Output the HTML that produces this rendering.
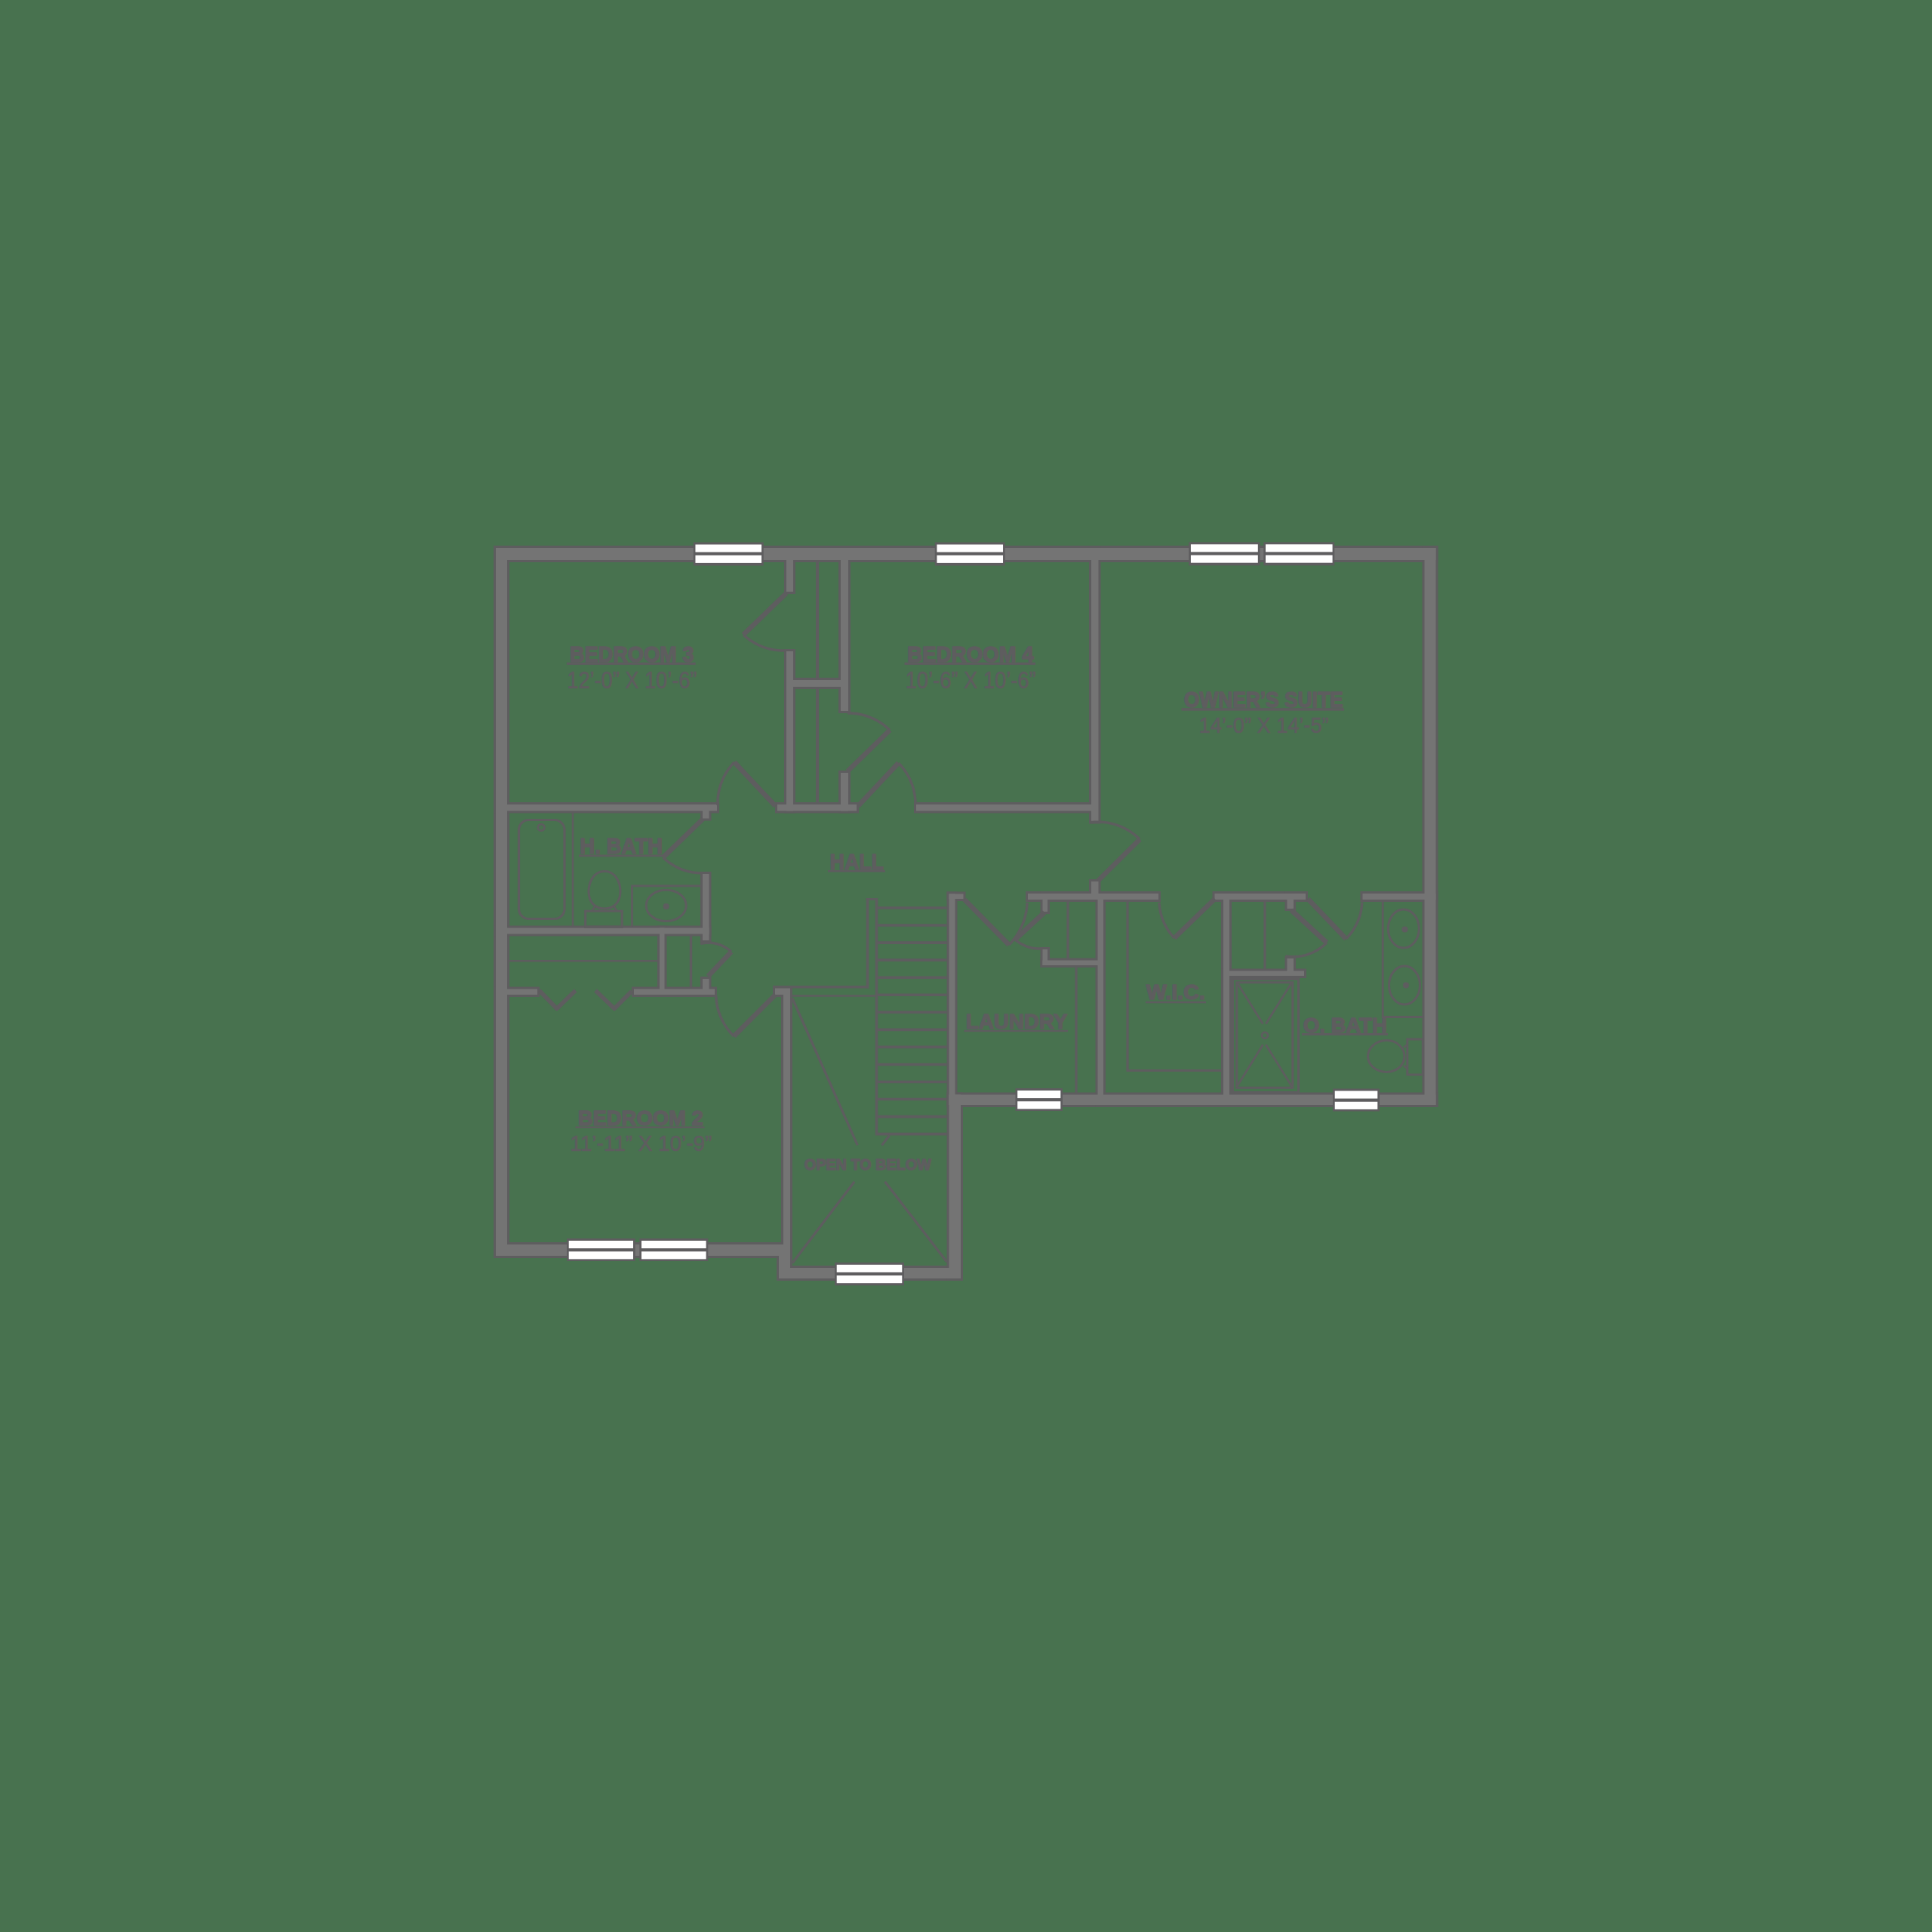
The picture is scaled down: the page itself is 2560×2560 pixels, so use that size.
<!DOCTYPE html><html><head><meta charset="utf-8"><style>html,body{margin:0;padding:0;background:#48724f;width:2560px;height:2560px;overflow:hidden;font-family:"Liberation Sans",sans-serif}</style></head><body><svg width="2560" height="2560" viewBox="0 0 2560 2560" style="display:block;font-family:'Liberation Sans',sans-serif"><rect x="654" y="723" width="1251.5" height="22" fill="#5e5d5f"/>
<rect x="654" y="723" width="21" height="944" fill="#5e5d5f"/>
<rect x="1884.5" y="723" width="21" height="744" fill="#5e5d5f"/>
<rect x="654" y="1646" width="395" height="21" fill="#5e5d5f"/>
<rect x="1029" y="1646" width="20" height="51" fill="#5e5d5f"/>
<rect x="1029" y="1677" width="247" height="20" fill="#5e5d5f"/>
<rect x="1254.5" y="1447.5" width="21.5" height="249.5" fill="#5e5d5f"/>
<rect x="1254.5" y="1447.5" width="651" height="19.5" fill="#5e5d5f"/>
<rect x="1254.5" y="1181.5" width="14" height="285.5" fill="#5e5d5f"/>
<rect x="1254.5" y="1181.5" width="25" height="12.5" fill="#5e5d5f"/>
<rect x="1039" y="723" width="15" height="64" fill="#5e5d5f"/>
<rect x="1039" y="860" width="15" height="217.5" fill="#5e5d5f"/>
<rect x="1039" y="898" width="88" height="15" fill="#5e5d5f"/>
<rect x="1111" y="723" width="16" height="222" fill="#5e5d5f"/>
<rect x="1111" y="1021" width="16" height="56.5" fill="#5e5d5f"/>
<rect x="654" y="1063" width="299" height="14.5" fill="#5e5d5f"/>
<rect x="928" y="1063" width="14.5" height="24.5" fill="#5e5d5f"/>
<rect x="1027" y="1063" width="111" height="14.5" fill="#5e5d5f"/>
<rect x="1211" y="1063" width="239" height="14.5" fill="#5e5d5f"/>
<rect x="1443" y="723" width="15.5" height="368.5" fill="#5e5d5f"/>
<rect x="1443" y="1165" width="15.5" height="29" fill="#5e5d5f"/>
<rect x="1359" y="1181" width="179" height="14" fill="#5e5d5f"/>
<rect x="1606.5" y="1181" width="126.5" height="14" fill="#5e5d5f"/>
<rect x="1802.5" y="1181" width="103" height="14" fill="#5e5d5f"/>
<rect x="1451.5" y="1181" width="13.5" height="286" fill="#5e5d5f"/>
<rect x="1378.5" y="1181" width="12.5" height="30" fill="#5e5d5f"/>
<rect x="1378.5" y="1255" width="12.5" height="27" fill="#5e5d5f"/>
<rect x="1378.5" y="1269.5" width="86.5" height="12.5" fill="#5e5d5f"/>
<rect x="1618" y="1181" width="14" height="286" fill="#5e5d5f"/>
<rect x="1702.5" y="1181" width="14.5" height="26" fill="#5e5d5f"/>
<rect x="1702.5" y="1267" width="14.5" height="29" fill="#5e5d5f"/>
<rect x="1618" y="1283.5" width="113" height="12.5" fill="#5e5d5f"/>
<rect x="928" y="1155" width="14.5" height="94" fill="#5e5d5f"/>
<rect x="654" y="1226.5" width="288.5" height="14" fill="#5e5d5f"/>
<rect x="871" y="1226.5" width="12.5" height="94.5" fill="#5e5d5f"/>
<rect x="928" y="1294" width="14.5" height="27" fill="#5e5d5f"/>
<rect x="654" y="1307.5" width="61" height="13.5" fill="#5e5d5f"/>
<rect x="837" y="1307.5" width="113" height="13.5" fill="#5e5d5f"/>
<rect x="1035" y="1306" width="15" height="391" fill="#5e5d5f"/>
<rect x="1024" y="1306" width="26" height="15" fill="#5e5d5f"/>
<rect x="657" y="726" width="1245.5" height="16" fill="#747474"/>
<rect x="657" y="726" width="15" height="938" fill="#747474"/>
<rect x="1887.5" y="726" width="15" height="738" fill="#747474"/>
<rect x="657" y="1649" width="389" height="15" fill="#747474"/>
<rect x="1032" y="1649" width="14" height="45" fill="#747474"/>
<rect x="1032" y="1680" width="241" height="14" fill="#747474"/>
<rect x="1257.5" y="1450.5" width="15.5" height="243.5" fill="#747474"/>
<rect x="1257.5" y="1450.5" width="645" height="13.5" fill="#747474"/>
<rect x="1257.5" y="1184.5" width="8" height="279.5" fill="#747474"/>
<rect x="1257.5" y="1184.5" width="19" height="6.5" fill="#747474"/>
<rect x="1042" y="726" width="9" height="58" fill="#747474"/>
<rect x="1042" y="863" width="9" height="211.5" fill="#747474"/>
<rect x="1042" y="901" width="82" height="9" fill="#747474"/>
<rect x="1114" y="726" width="10" height="216" fill="#747474"/>
<rect x="1114" y="1024" width="10" height="50.5" fill="#747474"/>
<rect x="657" y="1066" width="293" height="8.5" fill="#747474"/>
<rect x="931" y="1066" width="8.5" height="18.5" fill="#747474"/>
<rect x="1030" y="1066" width="105" height="8.5" fill="#747474"/>
<rect x="1214" y="1066" width="233" height="8.5" fill="#747474"/>
<rect x="1446" y="726" width="9.5" height="362.5" fill="#747474"/>
<rect x="1446" y="1168" width="9.5" height="23" fill="#747474"/>
<rect x="1362" y="1184" width="173" height="8" fill="#747474"/>
<rect x="1609.5" y="1184" width="120.5" height="8" fill="#747474"/>
<rect x="1805.5" y="1184" width="97" height="8" fill="#747474"/>
<rect x="1454.5" y="1184" width="7.5" height="280" fill="#747474"/>
<rect x="1381.5" y="1184" width="6.5" height="24" fill="#747474"/>
<rect x="1381.5" y="1258" width="6.5" height="21" fill="#747474"/>
<rect x="1381.5" y="1272.5" width="80.5" height="6.5" fill="#747474"/>
<rect x="1621" y="1184" width="8" height="280" fill="#747474"/>
<rect x="1705.5" y="1184" width="8.5" height="20" fill="#747474"/>
<rect x="1705.5" y="1270" width="8.5" height="23" fill="#747474"/>
<rect x="1621" y="1286.5" width="107" height="6.5" fill="#747474"/>
<rect x="931" y="1158" width="8.5" height="88" fill="#747474"/>
<rect x="657" y="1229.5" width="282.5" height="8" fill="#747474"/>
<rect x="874" y="1229.5" width="6.5" height="88.5" fill="#747474"/>
<rect x="931" y="1297" width="8.5" height="21" fill="#747474"/>
<rect x="657" y="1310.5" width="55" height="7.5" fill="#747474"/>
<rect x="840" y="1310.5" width="107" height="7.5" fill="#747474"/>
<rect x="1038" y="1309" width="9" height="385" fill="#747474"/>
<rect x="1027" y="1309" width="20" height="9" fill="#747474"/>
<polyline points="985,841 986.9,842.72 988.86,844.38 990.86,845.97 992.91,847.49 995.01,848.94 997.14,850.32 999.32,851.62 1001.54,852.86 1003.79,854.01 1006.07,855.1 1008.38,856.11 1010.72,857.04 1013.09,857.89 1015.47,858.66 1017.88,859.36 1020.3,859.97 1022.74,860.51 1025.19,860.96 1027.65,861.34 1030.12,861.63 1032.59,861.84 1035.06,861.98 1037.53,862.03 1040,862" fill="none" stroke="#5e5d5f" stroke-width="3.5" stroke-linecap="butt" stroke-linejoin="miter"/>
<line x1="1042" y1="786" x2="985" y2="841" stroke="#5e5d5f" stroke-width="6.5" stroke-linecap="butt"/>
<polyline points="973,1010 971.18,1011.95 969.43,1013.95 967.75,1016.01 966.14,1018.12 964.61,1020.28 963.15,1022.48 961.77,1024.73 960.47,1027.03 959.25,1029.35 958.11,1031.72 957.05,1034.12 956.07,1036.55 955.18,1039 954.37,1041.48 953.64,1043.99 953,1046.51 952.45,1049.04 951.98,1051.59 951.6,1054.15 951.31,1056.72 951.1,1059.29 950.98,1061.86 950.95,1064.43 951,1067" fill="none" stroke="#5e5d5f" stroke-width="3.5" stroke-linecap="butt" stroke-linejoin="miter"/>
<line x1="1027.5" y1="1068" x2="973" y2="1010" stroke="#5e5d5f" stroke-width="6.5" stroke-linecap="butt"/>
<polyline points="1179,967.5 1177.12,965.7 1175.19,963.97 1173.2,962.3 1171.15,960.7 1169.06,959.17 1166.91,957.71 1164.72,956.32 1162.49,955.01 1160.21,953.78 1157.9,952.62 1155.55,951.54 1153.17,950.54 1150.76,949.62 1148.32,948.78 1145.85,948.02 1143.37,947.35 1140.86,946.76 1138.33,946.25 1135.8,945.83 1133.25,945.49 1130.69,945.24 1128.13,945.08 1125.56,945 1123,945" fill="none" stroke="#5e5d5f" stroke-width="3.5" stroke-linecap="butt" stroke-linejoin="miter"/>
<line x1="1123" y1="1022" x2="1179" y2="967.5" stroke="#5e5d5f" stroke-width="6.5" stroke-linecap="butt"/>
<polyline points="1190.5,1011 1192.29,1012.86 1194.01,1014.77 1195.66,1016.73 1197.25,1018.75 1198.77,1020.82 1200.22,1022.93 1201.59,1025.09 1202.89,1027.28 1204.12,1029.52 1205.27,1031.8 1206.35,1034.1 1207.35,1036.44 1208.26,1038.81 1209.1,1041.21 1209.86,1043.62 1210.54,1046.06 1211.14,1048.52 1211.65,1050.99 1212.08,1053.48 1212.43,1055.97 1212.7,1058.48 1212.88,1060.98 1212.98,1063.49 1213,1066" fill="none" stroke="#5e5d5f" stroke-width="3.5" stroke-linecap="butt" stroke-linejoin="miter"/>
<line x1="1137" y1="1068" x2="1190.5" y2="1011" stroke="#5e5d5f" stroke-width="6.5" stroke-linecap="butt"/>
<polyline points="1510.2,1112.2 1508.06,1110.12 1505.84,1108.12 1503.54,1106.21 1501.18,1104.39 1498.74,1102.66 1496.24,1101.02 1493.68,1099.48 1491.06,1098.04 1488.39,1096.71 1485.66,1095.47 1482.9,1094.34 1480.09,1093.32 1477.24,1092.41 1474.36,1091.61 1471.46,1090.91 1468.52,1090.33 1465.57,1089.87 1462.6,1089.51 1459.62,1089.27 1456.63,1089.15 1453.64,1089.14 1450.65,1089.25 1447.67,1089.47 1444.7,1089.8" fill="none" stroke="#5e5d5f" stroke-width="3.5" stroke-linecap="butt" stroke-linejoin="miter"/>
<line x1="1455" y1="1167" x2="1510.2" y2="1112.2" stroke="#5e5d5f" stroke-width="6.5" stroke-linecap="butt"/>
<polyline points="878.6,1136.1 880.29,1137.69 882.02,1139.23 883.8,1140.71 885.63,1142.13 887.49,1143.49 889.4,1144.8 891.35,1146.03 893.33,1147.21 895.34,1148.32 897.39,1149.37 899.47,1150.35 901.57,1151.26 903.7,1152.11 905.86,1152.89 908.03,1153.6 910.23,1154.24 912.44,1154.81 914.66,1155.3 916.9,1155.73 919.15,1156.09 921.41,1156.37 923.67,1156.59 925.93,1156.73 928.2,1156.8" fill="none" stroke="#5e5d5f" stroke-width="3.5" stroke-linecap="butt" stroke-linejoin="miter"/>
<line x1="931.6" y1="1085" x2="878.6" y2="1136.1" stroke="#5e5d5f" stroke-width="6.5" stroke-linecap="butt"/>
<polyline points="969,1261.2 967.63,1259.97 966.21,1258.8 964.75,1257.69 963.24,1256.63 961.69,1255.65 960.1,1254.73 958.48,1253.87 956.82,1253.08 955.13,1252.36 953.42,1251.72 951.68,1251.14 949.92,1250.63 948.14,1250.2 946.34,1249.85 944.53,1249.56 942.71,1249.36 940.89,1249.22 939.06,1249.17 937.23,1249.19 935.41,1249.28 933.59,1249.45 931.78,1249.69 929.98,1250.01 928.2,1250.4" fill="none" stroke="#5e5d5f" stroke-width="3.5" stroke-linecap="butt" stroke-linejoin="miter"/>
<line x1="938.2" y1="1293.5" x2="969" y2="1261.2" stroke="#5e5d5f" stroke-width="6.5" stroke-linecap="butt"/>
<polyline points="972.5,1373 970.73,1371.23 969.01,1369.4 967.36,1367.52 965.76,1365.58 964.23,1363.59 962.76,1361.55 961.36,1359.47 960.02,1357.34 958.76,1355.17 957.56,1352.95 956.43,1350.7 955.38,1348.41 954.4,1346.09 953.5,1343.73 952.67,1341.35 951.92,1338.94 951.24,1336.51 950.65,1334.05 950.13,1331.57 949.69,1329.08 949.33,1326.58 949.06,1324.06 948.86,1321.53 948.75,1319" fill="none" stroke="#5e5d5f" stroke-width="3.5" stroke-linecap="butt" stroke-linejoin="miter"/>
<line x1="1027.5" y1="1318" x2="972.5" y2="1373" stroke="#5e5d5f" stroke-width="6.5" stroke-linecap="butt"/>
<polyline points="1337,1252 1338.8,1250.11 1340.55,1248.16 1342.23,1246.16 1343.84,1244.12 1345.4,1242.02 1346.88,1239.88 1348.3,1237.69 1349.65,1235.46 1350.92,1233.19 1352.13,1230.89 1353.26,1228.55 1354.32,1226.17 1355.31,1223.77 1356.21,1221.34 1357.05,1218.88 1357.8,1216.4 1358.48,1213.9 1359.08,1211.37 1359.6,1208.84 1360.04,1206.29 1360.4,1203.73 1360.68,1201.16 1360.88,1198.58 1361,1196" fill="none" stroke="#5e5d5f" stroke-width="3.5" stroke-linecap="butt" stroke-linejoin="miter"/>
<line x1="1278" y1="1192" x2="1337" y2="1252" stroke="#5e5d5f" stroke-width="6.5" stroke-linecap="butt"/>
<polyline points="1345,1245 1346.24,1246.02 1347.51,1246.99 1348.81,1247.92 1350.12,1248.81 1351.46,1249.65 1352.82,1250.45 1354.19,1251.21 1355.58,1251.92 1356.99,1252.58 1358.42,1253.2 1359.85,1253.77 1361.3,1254.3 1362.75,1254.78 1364.22,1255.21 1365.69,1255.6 1367.17,1255.94 1368.65,1256.23 1370.13,1256.48 1371.62,1256.68 1373.1,1256.84 1374.58,1256.95 1376.06,1257.01 1377.53,1257.03 1379,1257" fill="none" stroke="#5e5d5f" stroke-width="3.5" stroke-linecap="butt" stroke-linejoin="miter"/>
<line x1="1384" y1="1209" x2="1345" y2="1245" stroke="#5e5d5f" stroke-width="6.5" stroke-linecap="butt"/>
<polyline points="1556,1243 1554.53,1241.38 1553.11,1239.73 1551.74,1238.03 1550.42,1236.29 1549.15,1234.52 1547.94,1232.71 1546.78,1230.87 1545.67,1228.99 1544.62,1227.08 1543.63,1225.15 1542.69,1223.19 1541.81,1221.2 1540.99,1219.19 1540.23,1217.16 1539.53,1215.1 1538.89,1213.03 1538.31,1210.94 1537.79,1208.84 1537.34,1206.72 1536.95,1204.59 1536.61,1202.45 1536.35,1200.31 1536.14,1198.16 1536,1196" fill="none" stroke="#5e5d5f" stroke-width="3.5" stroke-linecap="butt" stroke-linejoin="miter"/>
<line x1="1609.8" y1="1191" x2="1556" y2="1243" stroke="#5e5d5f" stroke-width="6.5" stroke-linecap="butt"/>
<polyline points="1758,1249 1756.19,1250.77 1754.31,1252.46 1752.37,1254.07 1750.37,1255.61 1748.31,1257.06 1746.2,1258.42 1744.04,1259.7 1741.84,1260.89 1739.59,1261.99 1737.31,1263 1734.98,1263.91 1732.63,1264.73 1730.25,1265.45 1727.85,1266.08 1725.43,1266.61 1722.99,1267.05 1720.54,1267.38 1718.09,1267.62 1715.63,1267.76 1713.16,1267.81 1710.71,1267.75 1708.26,1267.6 1705.82,1267.35 1703.4,1267" fill="none" stroke="#5e5d5f" stroke-width="3.5" stroke-linecap="butt" stroke-linejoin="miter"/>
<line x1="1711" y1="1206" x2="1758" y2="1249" stroke="#5e5d5f" stroke-width="6.5" stroke-linecap="butt"/>
<polyline points="1783.5,1244 1785.09,1242.36 1786.62,1240.68 1788.1,1238.95 1789.52,1237.18 1790.89,1235.37 1792.19,1233.51 1793.44,1231.62 1794.63,1229.69 1795.76,1227.72 1796.82,1225.73 1797.82,1223.7 1798.76,1221.64 1799.63,1219.56 1800.44,1217.45 1801.17,1215.33 1801.85,1213.18 1802.45,1211.01 1802.99,1208.82 1803.45,1206.62 1803.85,1204.41 1804.18,1202.2 1804.44,1199.97 1804.63,1197.74 1804.75,1195.5" fill="none" stroke="#5e5d5f" stroke-width="3.5" stroke-linecap="butt" stroke-linejoin="miter"/>
<line x1="1733" y1="1191" x2="1783.5" y2="1244" stroke="#5e5d5f" stroke-width="6.5" stroke-linecap="butt"/>
<polyline points="714.6,1312.5 737.8,1336.5 762.6,1312.5" fill="none" stroke="#5e5d5f" stroke-width="5.5" stroke-linecap="butt" stroke-linejoin="round"/>
<polyline points="789.1,1312.5 814,1336.5 837.2,1313.3" fill="none" stroke="#5e5d5f" stroke-width="5.5" stroke-linecap="butt" stroke-linejoin="round"/>
<line x1="1083" y1="745" x2="1083" y2="898" stroke="#5e5d5f" stroke-width="4" stroke-linecap="butt"/>
<line x1="1083" y1="913" x2="1083" y2="1063" stroke="#5e5d5f" stroke-width="4" stroke-linecap="butt"/>
<line x1="759" y1="1077" x2="759" y2="1227" stroke="#5e5d5f" stroke-width="2.6" stroke-linecap="butt"/>
<line x1="675" y1="1273.2" x2="871" y2="1273.2" stroke="#5e5d5f" stroke-width="2.6" stroke-linecap="butt"/>
<line x1="915.5" y1="1240" x2="915.5" y2="1308" stroke="#5e5d5f" stroke-width="3.4" stroke-linecap="butt"/>
<line x1="1415" y1="1194" x2="1415" y2="1270" stroke="#5e5d5f" stroke-width="3.2" stroke-linecap="butt"/>
<line x1="1426" y1="1282" x2="1426" y2="1448" stroke="#5e5d5f" stroke-width="3.2" stroke-linecap="butt"/>
<polyline points="1494,1195 1494,1418.5 1618,1418.5" fill="none" stroke="#5e5d5f" stroke-width="3.2" stroke-linecap="butt" stroke-linejoin="miter"/>
<line x1="1676" y1="1195" x2="1676" y2="1284" stroke="#5e5d5f" stroke-width="3.2" stroke-linecap="butt"/>
<line x1="1163" y1="1203" x2="1254.5" y2="1203" stroke="#5e5d5f" stroke-width="3.6" stroke-linecap="butt"/>
<line x1="1163" y1="1226.05" x2="1254.5" y2="1226.05" stroke="#5e5d5f" stroke-width="3.6" stroke-linecap="butt"/>
<line x1="1163" y1="1249.1" x2="1254.5" y2="1249.1" stroke="#5e5d5f" stroke-width="3.6" stroke-linecap="butt"/>
<line x1="1163" y1="1272.15" x2="1254.5" y2="1272.15" stroke="#5e5d5f" stroke-width="3.6" stroke-linecap="butt"/>
<line x1="1163" y1="1295.2" x2="1254.5" y2="1295.2" stroke="#5e5d5f" stroke-width="3.6" stroke-linecap="butt"/>
<line x1="1163" y1="1318.25" x2="1254.5" y2="1318.25" stroke="#5e5d5f" stroke-width="3.6" stroke-linecap="butt"/>
<line x1="1163" y1="1341.3" x2="1254.5" y2="1341.3" stroke="#5e5d5f" stroke-width="3.6" stroke-linecap="butt"/>
<line x1="1163" y1="1364.35" x2="1254.5" y2="1364.35" stroke="#5e5d5f" stroke-width="3.6" stroke-linecap="butt"/>
<line x1="1163" y1="1387.4" x2="1254.5" y2="1387.4" stroke="#5e5d5f" stroke-width="3.6" stroke-linecap="butt"/>
<line x1="1163" y1="1410.45" x2="1254.5" y2="1410.45" stroke="#5e5d5f" stroke-width="3.6" stroke-linecap="butt"/>
<line x1="1163" y1="1433.5" x2="1254.5" y2="1433.5" stroke="#5e5d5f" stroke-width="3.6" stroke-linecap="butt"/>
<line x1="1163" y1="1456.55" x2="1254.5" y2="1456.55" stroke="#5e5d5f" stroke-width="3.6" stroke-linecap="butt"/>
<line x1="1163" y1="1479.6" x2="1254.5" y2="1479.6" stroke="#5e5d5f" stroke-width="3.6" stroke-linecap="butt"/>
<line x1="1163" y1="1502.65" x2="1254.5" y2="1502.65" stroke="#5e5d5f" stroke-width="3.6" stroke-linecap="butt"/>
<line x1="1161.5" y1="1190" x2="1161.5" y2="1504.5" stroke="#5e5d5f" stroke-width="3.5" stroke-linecap="butt"/>
<line x1="1149.5" y1="1190" x2="1149.5" y2="1309.5" stroke="#5e5d5f" stroke-width="3.5" stroke-linecap="butt"/>
<line x1="1147.7" y1="1191.5" x2="1163" y2="1191.5" stroke="#5e5d5f" stroke-width="3" stroke-linecap="butt"/>
<line x1="1024" y1="1307.7" x2="1151" y2="1307.7" stroke="#5e5d5f" stroke-width="3.5" stroke-linecap="butt"/>
<line x1="1050" y1="1319.5" x2="1161" y2="1319.5" stroke="#5e5d5f" stroke-width="2.6" stroke-linecap="butt"/>
<line x1="1050" y1="1323" x2="1136.2" y2="1517.4" stroke="#5e5d5f" stroke-width="3.3" stroke-linecap="butt"/>
<line x1="1178.6" y1="1504.6" x2="1168.5" y2="1517.4" stroke="#5e5d5f" stroke-width="3.3" stroke-linecap="butt"/>
<line x1="1132.2" y1="1565.8" x2="1050.1" y2="1673.5" stroke="#5e5d5f" stroke-width="3.3" stroke-linecap="butt"/>
<line x1="1172.6" y1="1565.8" x2="1254.7" y2="1672.2" stroke="#5e5d5f" stroke-width="3.3" stroke-linecap="butt"/>
<rect x="687.5" y="1086.5" width="60.5" height="131" rx="13" fill="none" stroke="#5e5d5f" stroke-width="3.2"/>
<circle cx="717.1" cy="1096.4" r="4.3" fill="none" stroke="#5e5d5f" stroke-width="2.8"/>
<path d="M801,1154.5 C786,1154.5 780,1170 780,1181 C780,1196 789,1204 801,1204 C813,1204 822,1196 822,1181 C822,1170 816,1154.5 801,1154.5 Z" fill="none" stroke="#5e5d5f" stroke-width="3"/>
<rect x="775.7" y="1207.2" width="48.5" height="21" fill="none" stroke="#5e5d5f" stroke-width="3"/>
<polyline points="785,1206 789,1200" fill="none" stroke="#5e5d5f" stroke-width="2.5" stroke-linecap="butt" stroke-linejoin="miter"/>
<polyline points="817,1206 813,1200" fill="none" stroke="#5e5d5f" stroke-width="2.5" stroke-linecap="butt" stroke-linejoin="miter"/>
<polyline points="837.5,1228 837.5,1173.8 928,1173.8" fill="none" stroke="#5e5d5f" stroke-width="2.8" stroke-linecap="butt" stroke-linejoin="miter"/>
<ellipse cx="882.7" cy="1199.9" rx="26.5" ry="20.7" fill="none" stroke="#5e5d5f" stroke-width="3"/>
<circle cx="882.7" cy="1201" r="4" fill="#5e5d5f"/>
<polyline points="1832.2,1195 1832.2,1347.5 1885,1347.5" fill="none" stroke="#5e5d5f" stroke-width="2.8" stroke-linecap="butt" stroke-linejoin="miter"/>
<ellipse cx="1859.8" cy="1230.5" rx="20.5" ry="25.5" fill="none" stroke="#5e5d5f" stroke-width="3"/>
<circle cx="1861.5" cy="1231.5" r="4" fill="#5e5d5f"/>
<ellipse cx="1861" cy="1305.5" rx="20.5" ry="25.5" fill="none" stroke="#5e5d5f" stroke-width="3"/>
<circle cx="1863" cy="1305.5" r="4" fill="#5e5d5f"/>
<rect x="1864.8" y="1377" width="20.5" height="47" fill="none" stroke="#5e5d5f" stroke-width="3"/>
<path d="M1837.5,1378.5 C1822,1378.5 1812.5,1390 1812.5,1399.5 C1812.5,1410 1822,1420.5 1837.5,1420.5 C1852,1420.5 1861,1410 1861,1399.5 C1861,1390 1852,1378.5 1837.5,1378.5 Z" fill="none" stroke="#5e5d5f" stroke-width="3"/>
<polyline points="1865,1384 1860,1388" fill="none" stroke="#5e5d5f" stroke-width="2.5" stroke-linecap="butt" stroke-linejoin="miter"/>
<polyline points="1865,1416 1860,1412" fill="none" stroke="#5e5d5f" stroke-width="2.5" stroke-linecap="butt" stroke-linejoin="miter"/>
<rect x="1633.5" y="1297.5" width="87" height="150" fill="none" stroke="#5e5d5f" stroke-width="3"/>
<rect x="1638.8" y="1301.8" width="74" height="139.5" fill="none" stroke="#5e5d5f" stroke-width="3"/>
<line x1="1639.8" y1="1303" x2="1673.5" y2="1356.8" stroke="#5e5d5f" stroke-width="2.8" stroke-linecap="butt"/>
<line x1="1711" y1="1303" x2="1677.3" y2="1356.8" stroke="#5e5d5f" stroke-width="2.8" stroke-linecap="butt"/>
<line x1="1638.5" y1="1440.5" x2="1673.5" y2="1384.3" stroke="#5e5d5f" stroke-width="2.8" stroke-linecap="butt"/>
<line x1="1712.3" y1="1440.5" x2="1677.3" y2="1384.3" stroke="#5e5d5f" stroke-width="2.8" stroke-linecap="butt"/>
<circle cx="1676" cy="1371.8" r="4" fill="none" stroke="#5e5d5f" stroke-width="2.8"/>
<rect x="918.75" y="718.5" width="93" height="31" fill="#5e5d5f"/>
<rect x="921.45" y="721.5" width="87.6" height="10.1" fill="#ffffff"/>
<rect x="921.45" y="735.8" width="87.6" height="10.1" fill="#ffffff"/>
<rect x="1238.75" y="718.5" width="93" height="31" fill="#5e5d5f"/>
<rect x="1241.45" y="721.5" width="87.6" height="10.1" fill="#ffffff"/>
<rect x="1241.45" y="735.8" width="87.6" height="10.1" fill="#ffffff"/>
<rect x="1575.2" y="718.3" width="94.3" height="31" fill="#5e5d5f"/>
<rect x="1577.9" y="721.3" width="88.9" height="10.1" fill="#ffffff"/>
<rect x="1577.9" y="735.6" width="88.9" height="10.1" fill="#ffffff"/>
<rect x="1674.3" y="718.3" width="94" height="31" fill="#5e5d5f"/>
<rect x="1677" y="721.3" width="88.6" height="10.1" fill="#ffffff"/>
<rect x="1677" y="735.6" width="88.6" height="10.1" fill="#ffffff"/>
<rect x="1345.5" y="1442" width="62.5" height="30" fill="#5e5d5f"/>
<rect x="1348.2" y="1445" width="57.1" height="10.1" fill="#ffffff"/>
<rect x="1348.2" y="1459.3" width="57.1" height="10.1" fill="#ffffff"/>
<rect x="1766" y="1442.5" width="62" height="30" fill="#5e5d5f"/>
<rect x="1768.7" y="1445.5" width="56.6" height="10.1" fill="#ffffff"/>
<rect x="1768.7" y="1459.8" width="56.6" height="10.1" fill="#ffffff"/>
<rect x="751" y="1641" width="90.7" height="30" fill="#5e5d5f"/>
<rect x="753.7" y="1644" width="85.3" height="10.1" fill="#ffffff"/>
<rect x="753.7" y="1658.3" width="85.3" height="10.1" fill="#ffffff"/>
<rect x="847.3" y="1641" width="91" height="30" fill="#5e5d5f"/>
<rect x="850" y="1644" width="85.6" height="10.1" fill="#ffffff"/>
<rect x="850" y="1658.3" width="85.6" height="10.1" fill="#ffffff"/>
<rect x="1106" y="1672.8" width="92" height="30.5" fill="#5e5d5f"/>
<rect x="1108.7" y="1675.8" width="86.6" height="10.1" fill="#ffffff"/>
<rect x="1108.7" y="1690.1" width="86.6" height="10.1" fill="#ffffff"/>
<text x="754.75" y="877.05" font-size="30.04" font-weight="bold" textLength="164.6" lengthAdjust="spacingAndGlyphs" fill="#5e5d5f" stroke="#5e5d5f" stroke-width="1.5" stroke-linejoin="round">BEDROOM 3</text>
<rect x="750.9" y="877.8" width="170.8" height="3.1" fill="#5e5d5f"/>
<text x="751.35" y="911.65" font-size="30.84" font-weight="normal" textLength="172" lengthAdjust="spacingAndGlyphs" fill="#5e5d5f" stroke="#5e5d5f" stroke-width="0.7" stroke-linejoin="round">12’-0” X 10’-6”</text>
<text x="1202.05" y="876.75" font-size="29.75" font-weight="bold" textLength="167.7" lengthAdjust="spacingAndGlyphs" fill="#5e5d5f" stroke="#5e5d5f" stroke-width="1.5" stroke-linejoin="round">BEDROOM 4</text>
<rect x="1198.5" y="877.8" width="173.5" height="3.1" fill="#5e5d5f"/>
<text x="1199.65" y="911.95" font-size="30.84" font-weight="normal" textLength="173" lengthAdjust="spacingAndGlyphs" fill="#5e5d5f" stroke="#5e5d5f" stroke-width="0.7" stroke-linejoin="round">10’-6” X 10’-6”</text>
<text x="1568.85" y="937.45" font-size="29.61" font-weight="bold" textLength="210.7" lengthAdjust="spacingAndGlyphs" fill="#5e5d5f" stroke="#5e5d5f" stroke-width="1.5" stroke-linejoin="round">OWNER’S SUITE</text>
<rect x="1565.5" y="938.2" width="215.5" height="3.5" fill="#5e5d5f"/>
<text x="1588.55" y="971.45" font-size="29.39" font-weight="normal" textLength="172" lengthAdjust="spacingAndGlyphs" fill="#5e5d5f" stroke="#5e5d5f" stroke-width="0.7" stroke-linejoin="round">14’-0” X 14’-5”</text>
<text x="1099.55" y="1151.85" font-size="29.75" font-weight="bold" textLength="71.4" lengthAdjust="spacingAndGlyphs" fill="#5e5d5f" stroke="#5e5d5f" stroke-width="1.5" stroke-linejoin="round">HALL</text>
<rect x="1097" y="1153" width="76" height="2.6" fill="#5e5d5f"/>
<text x="768.35" y="1131.25" font-size="28.59" font-weight="bold" textLength="109.5" lengthAdjust="spacingAndGlyphs" fill="#5e5d5f" stroke="#5e5d5f" stroke-width="1.5" stroke-linejoin="round">H. BATH</text>
<rect x="767" y="1132.5" width="112" height="2.8" fill="#5e5d5f"/>
<text x="1279.75" y="1363.25" font-size="27.57" font-weight="bold" textLength="134.5" lengthAdjust="spacingAndGlyphs" fill="#5e5d5f" stroke="#5e5d5f" stroke-width="1.5" stroke-linejoin="round">LAUNDRY</text>
<rect x="1277.5" y="1364.8" width="137.5" height="2.4" fill="#5e5d5f"/>
<text x="1518.75" y="1324.35" font-size="27.28" font-weight="bold" textLength="77.9" lengthAdjust="spacingAndGlyphs" fill="#5e5d5f" stroke="#5e5d5f" stroke-width="1.5" stroke-linejoin="round">W.I.C.</text>
<rect x="1518" y="1326.8" width="80" height="2.5" fill="#5e5d5f"/>
<text x="1726.75" y="1368.25" font-size="28.3" font-weight="bold" textLength="111" lengthAdjust="spacingAndGlyphs" fill="#5e5d5f" stroke="#5e5d5f" stroke-width="1.5" stroke-linejoin="round">O. BATH</text>
<rect x="1725" y="1369" width="114" height="3" fill="#5e5d5f"/>
<text x="765.75" y="1491" font-size="27.57" font-weight="bold" textLength="166" lengthAdjust="spacingAndGlyphs" fill="#5e5d5f" stroke="#5e5d5f" stroke-width="1.5" stroke-linejoin="round">BEDROOM 2</text>
<rect x="762.5" y="1492.5" width="171" height="2.5" fill="#5e5d5f"/>
<text x="755.35" y="1525.15" font-size="30.11" font-weight="normal" textLength="188.05" lengthAdjust="spacingAndGlyphs" fill="#5e5d5f" stroke="#5e5d5f" stroke-width="0.7" stroke-linejoin="round">11’-11” X 10’-9”</text>
<text x="1065.75" y="1550.25" font-size="21.03" font-weight="bold" textLength="168" lengthAdjust="spacingAndGlyphs" fill="#5e5d5f" stroke="#5e5d5f" stroke-width="1.5" stroke-linejoin="round">OPEN TO BELOW</text></svg></body></html>
